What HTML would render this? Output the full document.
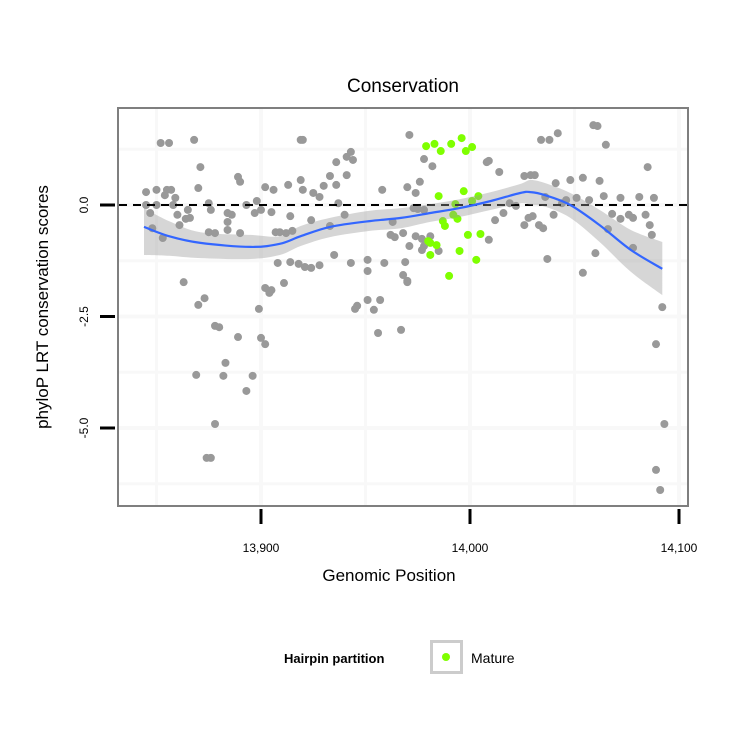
<!DOCTYPE html>
<html><head><meta charset="utf-8"><style>
html,body{margin:0;padding:0;background:#fff;}
svg{display:block;font-family:"Liberation Sans",sans-serif;}
</style></head><body>
<svg id="chart" width="750" height="750" viewBox="0 0 750 750" xmlns="http://www.w3.org/2000/svg">
<rect x="0" y="0" width="750" height="750" fill="#fff"/>
<text x="403" y="92" font-size="19" text-anchor="middle">Conservation</text>
<g id="grid"></g>
<g id="pts"></g>
<g id="smooth"></g>
<rect x="118" y="108" width="570" height="398" fill="none" stroke="#7f7f7f" stroke-width="2"/>
<g id="axes"></g>
<text x="389" y="581" font-size="17" text-anchor="middle">Genomic Position</text>
<text transform="translate(48,307) rotate(-90)" font-size="17" text-anchor="middle">phyloP LRT conservation scores</text>
<g>
<text x="284" y="663" font-size="13" font-weight="bold">Hairpin partition</text>
<rect x="431.5" y="641.5" width="30" height="31" fill="#fff" stroke="#cccccc" stroke-width="3"/>
<circle cx="446" cy="657" r="4" fill="#7fff00"/>
<text x="471" y="663" font-size="14">Mature</text>
</g>
</svg>
<script>
const greyX=[13845,13845,13847,13848,13850,13850,13852,13853,13854,13856,13857,13855,13858,13859,13860,13861,13863,13864,13865,13866,13868,13870,13871,13870,13873,13875,13876,13875,13878,13880,13882,13883,13869,13874,13876,13878,13878,13884,13884,13886,13884,13889,13890,13890,13889,13893,13896,13899,13893,13898,13897,13900,13900,13902,13902,13902,13905,13906,13907,13909,13905,13912,13913,13914,13915,13919,13920,13919,13920,13914,13911,13904,13908,13918,13921,13924,13928,13924,13925,13928,13933,13930,13933,13936,13936,13941,13944,13941,13937,13940,13943,13935,13943,13951,13951,13954,13946,13945,13951,13957,13956,13959,13964,13968,13970,13971,13974,13976,13977,13978,13982,13985,13975,13963,13962,13958,13967,13970,13968,13969,13978,13981,13971,14008,14009,14014,14026,14029,14031,14034,14038,14042,14059,14061,14065,14085,14060,14054,14037,14009,14040,14012,14016,14026,14028,14030,14033,14035,14041,14048,14054,14062,14036,14044,14051,14064,14072,14081,14088,14068,14072,14076,14078,14084,14086,14087,14066,14078,14092,14089,14093,14089,14091,13974,13977,13970,13973,13978,14019,14022,14046,14057];
const greyY=[0,0.29,-0.18,-0.52,0.34,0,1.39,-0.74,0.22,1.39,0.34,0.34,0,0.16,-0.22,-0.45,-1.73,-0.31,-0.11,-0.29,1.46,0.38,0.85,-2.24,-2.09,0.04,-0.11,-0.61,-2.71,-2.74,-3.83,-3.54,-3.81,-5.67,-5.67,-4.91,-0.63,-0.18,-0.38,-0.22,-0.56,0.63,0.52,-0.63,-2.96,-4.17,-3.83,-2.33,0,0.09,-0.18,-0.11,-2.98,-3.12,-1.86,0.40,-0.16,0.34,-0.61,-0.61,-1.91,-0.63,0.45,-0.25,-0.58,0.56,0.34,1.46,1.46,-1.28,-1.75,-1.97,-1.30,-1.32,-1.39,-1.41,-1.35,-0.34,0.27,0.18,-0.47,0.43,0.65,0.45,0.96,1.08,1.01,0.67,0.04,-0.22,1.19,-1.12,-1.30,-1.23,-1.48,-2.35,-2.26,-2.33,-2.13,-2.13,-2.87,-1.30,-0.72,-0.63,0.40,-0.92,0.27,0.52,-0.76,1.03,0.87,-1.03,-0.09,-0.38,-0.67,0.34,-2.80,-1.73,-1.57,-1.28,-0.92,-0.70,1.57,0.96,0.99,0.74,0.65,0.67,0.67,1.46,1.46,1.61,1.79,1.77,1.35,0.85,-1.08,-1.52,-1.21,-0.78,-0.22,-0.34,-0.18,-0.45,-0.29,-0.25,-0.45,-0.52,0.49,0.56,0.61,0.54,0.18,0.04,0.16,0.20,0.16,0.18,0.16,-0.20,-0.31,-0.22,-0.29,-0.22,-0.45,-0.67,-0.54,-0.96,-2.29,-3.12,-4.91,-5.94,-6.39,-0.70,-1.01,-1.70,-0.07,-0.11,0.04,-0.02,0.11,0.11];
const matureX=[13979,13983,13986,13991,13996,13998,14001,13997,13985,14004,14001,13993,13987,13992,13994,13988,13980,13984,13981,13995,13999,14005,14003,13990,13981];
const matureY=[1.32,1.37,1.21,1.37,1.50,1.21,1.30,0.31,0.20,0.20,0.09,0.02,-0.36,-0.22,-0.31,-0.47,-0.81,-0.90,-1.12,-1.03,-0.67,-0.65,-1.23,-1.59,-0.85];
const fitX=[13844,13856,13871,13895,13909,13919,13933,13952,13967,13981,13995,14010,14024,14029,14036,14048,14062,14077,14092];
const fitY=[-0.49,-0.70,-0.85,-0.94,-0.87,-0.70,-0.49,-0.36,-0.29,-0.18,-0.07,0.09,0.27,0.29,0.22,0,-0.45,-1.01,-1.43];
const fitUpper=[-0.07,-0.36,-0.61,-0.67,-0.70,-0.47,-0.29,-0.13,-0.07,0.02,0.13,0.29,0.47,0.56,0.49,0.27,-0.11,-0.56,-0.83];
const fitLower=[-1.12,-1.14,-1.19,-1.21,-1.12,-0.92,-0.72,-0.58,-0.52,-0.38,-0.27,-0.11,0.04,0,-0.04,-0.29,-0.83,-1.50,-2.02];
const xTicks=[13900,14000,14100];
const xTickLabels=["13,900","14,000","14,100"];
const yTicks=[0,-2.5,-5];
const yTickLabels=["0.0","-2.5","-5.0"];

const NS="http://www.w3.org/2000/svg";
function sx(v){return 261+(v-13900)*2.09;}
function sy(v){return 205-v*44.6;}
function mk(tag,attrs,parent){const e=document.createElementNS(NS,tag);for(const k in attrs)e.setAttribute(k,attrs[k]);parent.appendChild(e);return e;}
function curve(P,start){let d=start?('M'+P[0][0].toFixed(1)+','+P[0][1].toFixed(1)):('L'+P[0][0].toFixed(1)+','+P[0][1].toFixed(1));
for(let i=0;i<P.length-1;i++){const p0=P[Math.max(0,i-1)],p1=P[i],p2=P[i+1],p3=P[Math.min(P.length-1,i+2)];
const c1=[p1[0]+(p2[0]-p0[0])/6,p1[1]+(p2[1]-p0[1])/6],c2=[p2[0]-(p3[0]-p1[0])/6,p2[1]-(p3[1]-p1[1])/6];
d+='C'+c1[0].toFixed(1)+','+c1[1].toFixed(1)+' '+c2[0].toFixed(1)+','+c2[1].toFixed(1)+' '+p2[0].toFixed(1)+','+p2[1].toFixed(1);}
return d;}
const grid=document.getElementById('grid'),pts=document.getElementById('pts'),sm=document.getElementById('smooth'),axes=document.getElementById('axes');
const xMinor=[13850,13950,14050];
const yMinor=[1.25,-1.25,-3.75,-6.25];
xTicks.concat(xMinor).forEach(v=>{const l=mk('line',{x1:sx(v),x2:sx(v),y1:109,y2:505,stroke:'#f8f8f8','stroke-width':xTicks.includes(v)?4:3},grid);

});
yTicks.concat(yMinor).forEach(v=>{const l=mk('line',{x1:119,x2:687,y1:sy(v),y2:sy(v),stroke:'#f8f8f8','stroke-width':yTicks.includes(v)?4:3},grid);

});
greyX.forEach((x,i)=>{const c=mk('circle',{cx:sx(x),cy:sy(greyY[i]),r:4,fill:'#999999'},pts);

});
matureX.forEach((x,i)=>{const c=mk('circle',{cx:sx(x),cy:sy(matureY[i]),r:4,fill:'#7fff00'},pts);

});
const z=mk('line',{x1:119,x2:687,y1:sy(0),y2:sy(0),stroke:'#000','stroke-width':2,'stroke-dasharray':'8,6'},sm);


const up=fitX.map((x,i)=>[sx(x),sy(fitUpper[i])]);
const lo=fitX.map((x,i)=>[sx(x),sy(fitLower[i])]).reverse();
const rb=mk('path',{d:curve(up,true)+curve(lo,false)+'Z',fill:'#999999','fill-opacity':0.4,stroke:'none'},sm);


const ln=mk('path',{d:curve(fitX.map((x,i)=>[sx(x),sy(fitY[i])]),true),fill:'none',stroke:'#3366ff','stroke-width':2.2,'stroke-linejoin':'round'},sm);


xTicks.forEach((v,i)=>{const t=mk('line',{x1:sx(v),x2:sx(v),y1:509,y2:524,stroke:'#000','stroke-width':3},axes);


const tx=mk('text',{x:sx(v),y:552,'font-size':12,'text-anchor':'middle'},axes);tx.textContent=xTickLabels[i];

});
yTicks.forEach((v,i)=>{const t=mk('line',{x1:100,x2:115,y1:sy(v),y2:sy(v),stroke:'#000','stroke-width':3},axes);


const tx=mk('text',{transform:'translate(88,'+sy(v)+') rotate(-90)','font-size':12,'text-anchor':'middle'},axes);tx.textContent=yTickLabels[i];

});
</script>
</body></html>
